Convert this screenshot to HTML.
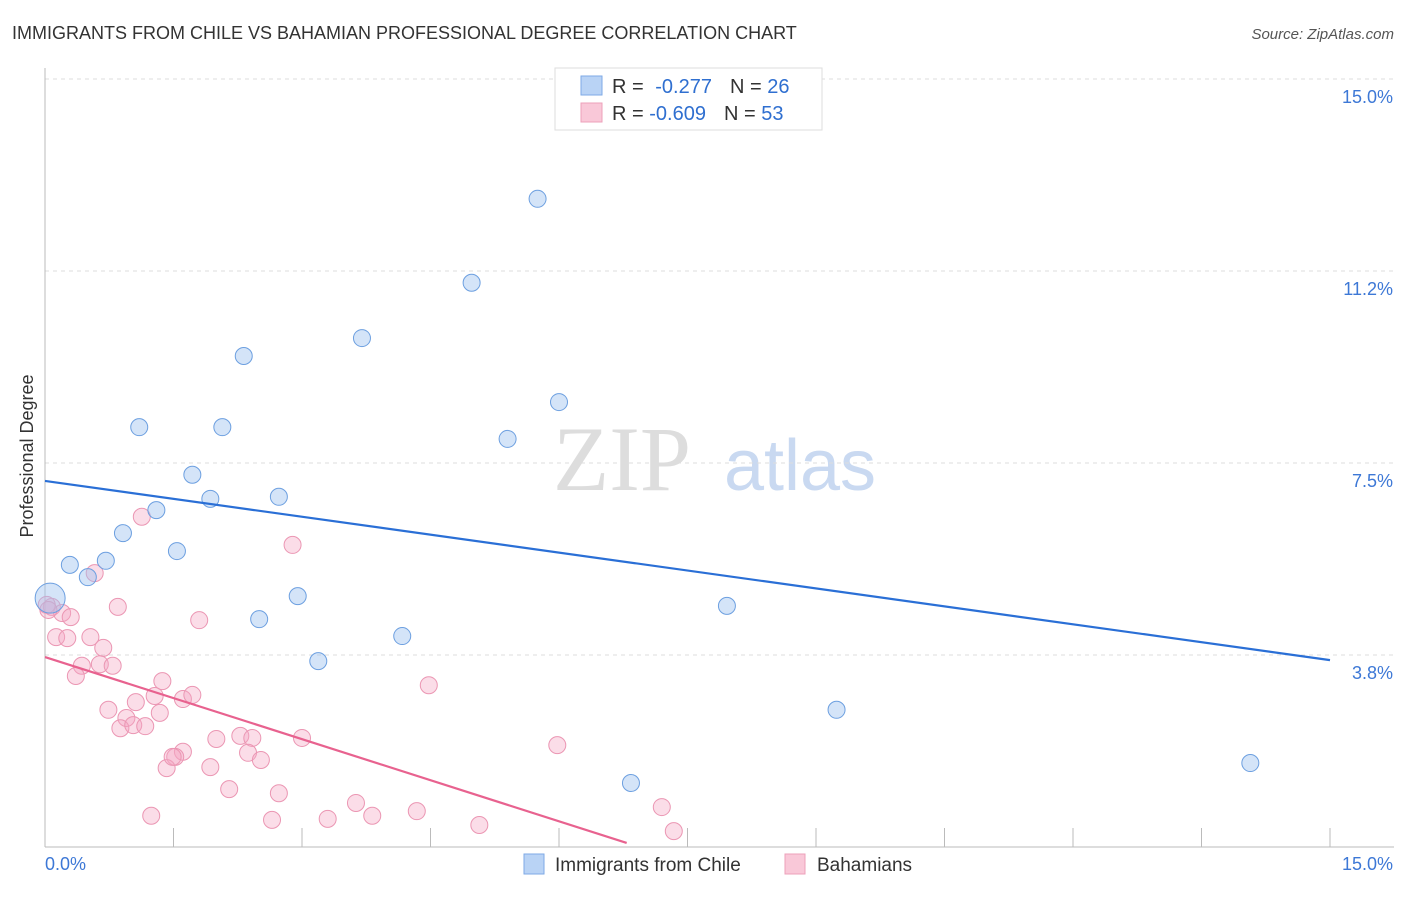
<!DOCTYPE html>
<html><head><meta charset="utf-8"><style>
body{margin:0;background:#fff;font-family:"Liberation Sans",sans-serif;}
</style></head><body>
<svg width="1406" height="892" xmlns="http://www.w3.org/2000/svg" id="svg" font-family="Liberation Sans, sans-serif">
<text x="12" y="39" font-size="18" fill="#333">IMMIGRANTS FROM CHILE VS BAHAMIAN PROFESSIONAL DEGREE CORRELATION CHART</text>
<text x="1394" y="39" font-size="15" fill="#555" font-style="italic" text-anchor="end">Source: ZipAtlas.com</text>
<text x="33" y="456" font-size="18" fill="#333" transform="rotate(-90 33 456)" text-anchor="middle">Professional Degree</text>
<g><text x="622" y="490" font-size="92" fill="#ddd" font-family="Liberation Serif, serif" text-anchor="middle">ZIP</text><text x="800" y="490" font-size="72" fill="#c9d9f1" text-anchor="middle">atlas</text></g>
<g id="grid"></g><g id="axes"></g><g id="marks"></g>
<g>
<rect x="555" y="68" width="267" height="62" fill="#fff" stroke="#ddd"/>
<rect x="581" y="76" width="21" height="19" fill="#b9d3f5" stroke="#7eaae6"/>
<rect x="581" y="103" width="21" height="19" fill="#f9c8d8" stroke="#eda0ba"/>
<text x="612" y="93" font-size="20" fill="#333">R = <tspan fill="#2f6fd0" dx="6">-0.277</tspan><tspan dx="18" fill="#333">N = </tspan><tspan fill="#2f6fd0">26</tspan></text>
<text x="612" y="120" font-size="20" fill="#333">R = <tspan fill="#2f6fd0">-0.609</tspan><tspan dx="18" fill="#333">N = </tspan><tspan fill="#2f6fd0">53</tspan></text>
</g>
<g>
<rect x="524" y="854" width="20" height="20" fill="#b9d3f5" stroke="#7eaae6"/>
<text x="555" y="871" font-size="19" fill="#333">Immigrants from Chile</text>
<rect x="785" y="854" width="20" height="20" fill="#f9c8d8" stroke="#eda0ba"/>
<text x="817" y="871" font-size="19" fill="#333">Bahamians</text>
</g>
</svg>
<script>
const yTicks=[15,11.25,7.5,3.75];
const yTickLabels=["15.0%","11.2%","7.5%","3.8%"];
const xTickLabels=["0.0%","15.0%"];
const chileX=[5.75,4.98,3.70,2.32,6.00,1.10,2.07,5.40,1.72,1.93,2.73,1.30,0.91,1.54,0.71,0.29,0.50,2.95,0.06,2.50,7.96,4.17,3.19,9.24,6.84,14.07];
const chileY=[12.66,11.02,9.94,9.59,8.69,8.20,8.20,7.97,7.27,6.80,6.84,6.58,6.13,5.78,5.59,5.51,5.27,4.90,4.86,4.45,4.71,4.12,3.63,2.68,1.25,1.64];
const chileBig=[18];
const bahX=[1.13,0.58,0.85,1.80,2.89,0.08,0.20,0.30,0.13,0.26,0.53,0.68,0.43,0.36,0.64,0.79,1.37,1.28,1.06,0.74,0.95,0.88,1.03,1.17,1.34,1.61,1.72,2.00,2.28,2.42,2.37,2.52,3.00,1.61,1.52,1.42,1.93,2.15,2.73,1.24,2.65,4.48,5.98,3.63,3.82,4.34,3.30,5.07,7.20,7.34,0.02,1.49,0.04];
const bahY=[6.45,5.35,4.69,4.43,5.90,4.69,4.57,4.49,4.10,4.08,4.10,3.89,3.54,3.34,3.57,3.54,3.24,2.95,2.83,2.68,2.52,2.32,2.38,2.36,2.62,2.89,2.97,2.11,2.17,2.13,1.84,1.70,2.13,1.86,1.76,1.54,1.56,1.13,1.05,0.61,0.53,3.16,1.99,0.86,0.61,0.70,0.55,0.43,0.78,0.31,4.73,1.76,4.63];
const chileTrend=[[0,7.15],[15,3.65]];
const bahTrend=[[0,3.71],[6.79,0.08]];
const X0=45,X1=1330,Y0=847,Ymax=79;
const sx=v=>X0+v/15*(X1-X0), sy=v=>Y0-v/15*(Y0-Ymax);
const NS="http://www.w3.org/2000/svg";
function mk(t,a,p){const e=document.createElementNS(NS,t);for(const k in a)e.setAttribute(k,a[k]);p.appendChild(e);return e;}
const grid=document.getElementById('grid'),axes=document.getElementById('axes'),marks=document.getElementById('marks');
yTicks.forEach((t,i)=>{
 const l=mk('line',{x1:X0,x2:1394,y1:sy(t),y2:sy(t),stroke:'#ddd','stroke-dasharray':'4,4'},grid);
 
 
 const tx=mk('text',{x:1393,y:sy(t)+24,'font-size':18,fill:'#3d78d6','text-anchor':'end'},axes);
 tx.textContent=yTickLabels[i];
 
 
});
const ya=mk('line',{x1:X0,x2:X0,y1:68,y2:Y0,stroke:'#bbb'},axes);


const xa=mk('line',{x1:X0,x2:1394,y1:Y0,y2:Y0,stroke:'#bbb'},axes);


for(let i=1;i<=10;i++){const v=i*1.5;
 const t=mk('line',{x1:sx(v),x2:sx(v),y1:828,y2:Y0,stroke:'#bbb'},axes);
 
 
}
[[0,'start',45],[15,'end',1393]].forEach((d,i)=>{
 const tx=mk('text',{x:d[2],y:870,'font-size':18,fill:'#3d78d6','text-anchor':d[1]},axes);
 tx.textContent=xTickLabels[i];
 
 
});
bahX.forEach((x,i)=>{
 const c=mk('circle',{cx:sx(x),cy:sy(bahY[i]),r:8.5,fill:'rgba(245,165,195,0.38)',stroke:'#eb96b3','stroke-width':1},marks);
 
 
});
chileX.forEach((x,i)=>{
 const c=mk('circle',{cx:sx(x),cy:sy(chileY[i]),r:chileBig.includes(i)?15:8.5,fill:'rgba(160,195,240,0.45)',stroke:'#6c9fe0','stroke-width':1},marks);
 
 
});
const l1=mk('line',{x1:sx(chileTrend[0][0]),y1:sy(chileTrend[0][1]),x2:sx(chileTrend[1][0]),y2:sy(chileTrend[1][1]),stroke:'#2a6fd6','stroke-width':2.2},marks);


const l2=mk('line',{x1:sx(bahTrend[0][0]),y1:sy(bahTrend[0][1]),x2:sx(bahTrend[1][0]),y2:sy(bahTrend[1][1]),stroke:'#e8628f','stroke-width':2.2},marks);


</script>
</body></html>
